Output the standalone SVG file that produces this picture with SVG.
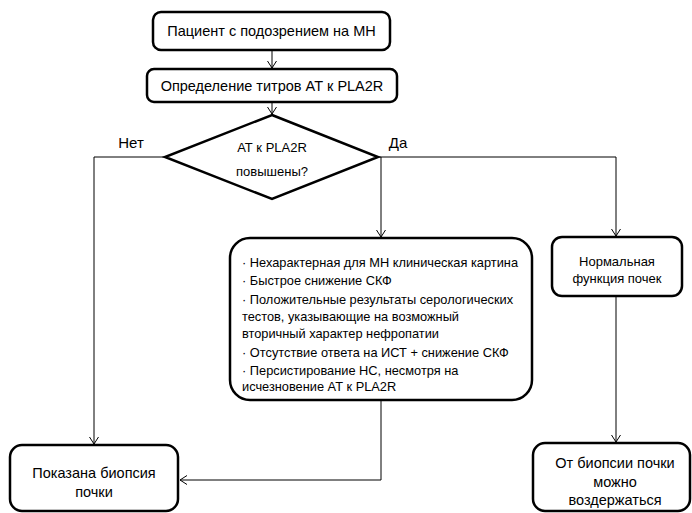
<svg xmlns="http://www.w3.org/2000/svg" width="692" height="513" viewBox="0 0 692 513">
<defs>
<marker id="arr" markerWidth="12" markerHeight="12" refX="10" refY="5" orient="auto" markerUnits="userSpaceOnUse">
<path d="M3,0.5 L10,5 L3,9.5" fill="none" stroke="#000" stroke-width="1"/>
</marker>
<style>
.box{fill:#fff;stroke:#000;stroke-width:2.5}
.t{font-family:"Liberation Sans",Arial,sans-serif;font-size:14.5px;fill:#000;text-anchor:middle}
.s{font-family:"Liberation Sans",Arial,sans-serif;font-size:12.8px;fill:#000}
.c{fill:none;stroke:#000;stroke-width:1}
</style>
</defs>
<rect width="692" height="513" fill="#fff"/>
<g id="connectors">
<path class="c" d="M272,50 V68" marker-end="url(#arr)"/>
<path class="c" d="M272,102 V114" marker-end="url(#arr)"/>
<path class="c" d="M165,157 H94 V444" marker-end="url(#arr)"/>
<path class="c" d="M378,157 H616 V236" marker-end="url(#arr)"/>
<path class="c" d="M381,157 V237" marker-end="url(#arr)"/>
<path class="c" d="M381,400 V480 H180" marker-end="url(#arr)"/>
<path class="c" d="M616,296 V442" marker-end="url(#arr)"/>
</g>
<g id="n1">
<rect class="box" x="153" y="12" width="237" height="38" rx="8"/>
<text class="t" x="271.5" y="36">Пациент с подозрением на МН</text>
</g>
<g id="n2">
<rect class="box" x="147" y="69" width="250" height="33" rx="7"/>
<text class="t" x="272" y="91">Определение титров АТ к PLA2R</text>
</g>
<g id="n3">
<polygon class="box" points="272,115 378,157 272,199 165,157"/>
<text class="t" x="272" y="152" style="font-size:13px">АТ к PLA2R</text>
<text class="t" x="272" y="176" style="font-size:13px">повышены?</text>
</g>
<g id="labels">
<text class="t" x="131" y="148" style="font-size:15px">Нет</text>
<text class="t" x="398" y="148" style="font-size:15px">Да</text>
</g>
<g id="n4">
<rect class="box" x="230" y="238" width="302" height="162" rx="20"/>
<text class="s" x="242" y="267">· Нехарактерная для МН клиническая картина</text>
<text class="s" x="242" y="285">· Быстрое снижение СКФ</text>
<text class="s" x="242" y="304">· Положительные результаты серологических</text>
<text class="s" x="242" y="321">тестов, указывающие на возможный</text>
<text class="s" x="242" y="338">вторичный характер нефропатии</text>
<text class="s" x="242" y="357">· Отсутствие ответа на ИСТ + снижение СКФ</text>
<text class="s" x="242" y="375">· Персистирование НС, несмотря на</text>
<text class="s" x="242" y="391">исчезновение АТ к PLA2R</text>
</g>
<g id="n5">
<rect class="box" x="552" y="237" width="130" height="59" rx="10"/>
<text class="t" x="617" y="266" style="font-size:13px">Нормальная</text>
<text class="t" x="617" y="283" style="font-size:13px">функция почек</text>
</g>
<g id="n6">
<rect class="box" x="10" y="445" width="168" height="66" rx="12"/>
<text class="t" x="94" y="478">Показана биопсия</text>
<text class="t" x="94" y="497">почки</text>
</g>
<g id="n7">
<rect class="box" x="533" y="443" width="157" height="68" rx="12"/>
<text class="t" x="615" y="468">От биопсии почки</text>
<text class="t" x="615" y="487">можно</text>
<text class="t" x="615" y="505">воздержаться</text>
</g>
</svg>
